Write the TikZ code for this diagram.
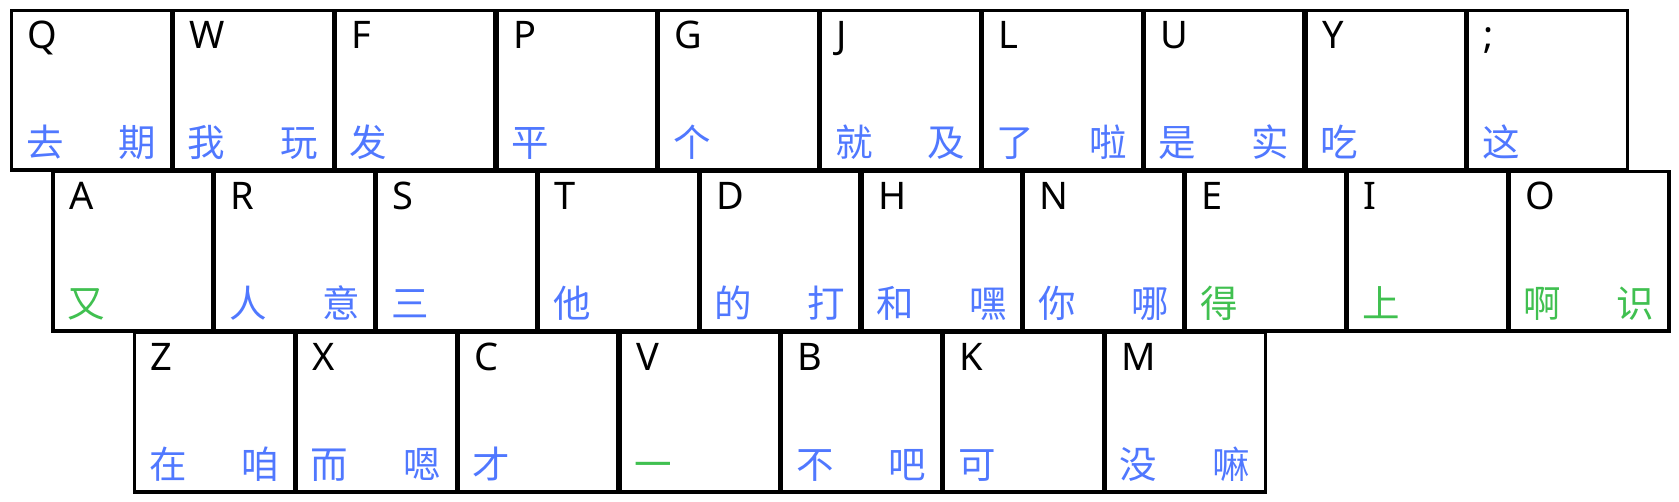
\documentclass[tikz,border=0pt]{standalone}
\usepackage{fontspec}
\setmainfont{Noto Sans}
\newfontfamily\cjk{Noto Sans CJK SC}
\definecolor{kblue}{HTML}{5078FF}
\definecolor{kgreen}{HTML}{40C050}
\newcommand{\kbkey}[7]{%
  % #1 name, #2 x, #3 y, #4 letter, #5 left char, #6 right char, #7 colour
  \node[keybox] (#1) at (#2+79.9,#3+79.75) {};
  \path (#1.north west) ++(17.5,39.5) node[lettertxt] (#1l) {#4};
  \path (#1.south west) ++(16,-15.5) node[cjktxt,anchor=base west,text=#7] (#1a) {#5};
  \path (#1.south east) ++(-16.5,-15.5) node[cjktxt,anchor=base east,text=#7] (#1b) {#6};
}
\begin{document}
\begin{tikzpicture}[x=1pt,y=-1pt,
  keybox/.style={draw=black,line width=3.2pt,minimum width=159.8pt,minimum height=159.5pt,inner sep=0pt,fill=white},
  lettertxt/.style={anchor=base west,inner sep=0pt,font=\fontsize{38}{40}\selectfont,text=black},
  cjktxt/.style={inner sep=0pt,font=\cjk\fontsize{37.5}{40}\selectfont}]
\useasboundingbox[fill=white] (0,0) rectangle (1679,501);
% row 1
\kbkey{kq}{11.5+0*161.8}{10.5}{Q}{去}{期}{kblue}
\kbkey{kw}{11.5+1*161.8}{10.5}{W}{我}{玩}{kblue}
\kbkey{kf}{11.5+2*161.8}{10.5}{F}{发}{}{kblue}
\kbkey{kp}{11.5+3*161.8}{10.5}{P}{平}{}{kblue}
\kbkey{kg}{11.5+4*161.8}{10.5}{G}{个}{}{kblue}
\kbkey{kj}{11.5+5*161.8}{10.5}{J}{就}{及}{kblue}
\kbkey{kl}{11.5+6*161.8}{10.5}{L}{了}{啦}{kblue}
\kbkey{ku}{11.5+7*161.8}{10.5}{U}{是}{实}{kblue}
\kbkey{ky}{11.5+8*161.8}{10.5}{Y}{吃}{}{kblue}
\kbkey{ksemi}{11.5+9*161.8}{10.5}{;}{这}{}{kblue}
% row 2
\kbkey{ka}{53+0*161.8}{171.5}{A}{又}{}{kgreen}
\kbkey{kr}{53+1*161.8}{171.5}{R}{人}{意}{kblue}
\kbkey{ks}{53+2*161.8}{171.5}{S}{三}{}{kblue}
\kbkey{kt}{53+3*161.8}{171.5}{T}{他}{}{kblue}
\kbkey{kd}{53+4*161.8}{171.5}{D}{的}{打}{kblue}
\kbkey{kh}{53+5*161.8}{171.5}{H}{和}{嘿}{kblue}
\kbkey{kn}{53+6*161.8}{171.5}{N}{你}{哪}{kblue}
\kbkey{ke}{53+7*161.8}{171.5}{E}{得}{}{kgreen}
\kbkey{ki}{53+8*161.8}{171.5}{I}{上}{}{kgreen}
\kbkey{ko}{53+9*161.8}{171.5}{O}{啊}{识}{kgreen}
% row 3
\kbkey{kz}{134.5+0*161.8}{332.5}{Z}{在}{咱}{kblue}
\kbkey{kx}{134.5+1*161.8}{332.5}{X}{而}{嗯}{kblue}
\kbkey{kc}{134.5+2*161.8}{332.5}{C}{才}{}{kblue}
\kbkey{kv}{134.5+3*161.8}{332.5}{V}{一}{}{kgreen}
\kbkey{kb}{134.5+4*161.8}{332.5}{B}{不}{吧}{kblue}
\kbkey{kk}{134.5+5*161.8}{332.5}{K}{可}{}{kblue}
\kbkey{km}{134.5+6*161.8}{332.5}{M}{没}{嘛}{kblue}
\end{tikzpicture}
\end{document}
